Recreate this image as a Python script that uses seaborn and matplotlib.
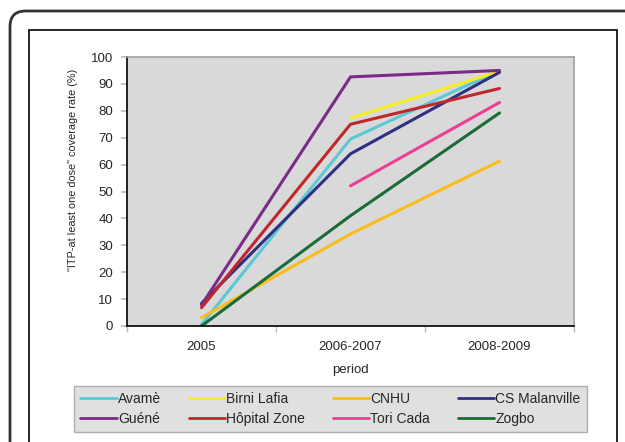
import matplotlib
matplotlib.use("Agg")
import matplotlib.pyplot as plt
import matplotlib.patches as mpatches
import numpy as np
import pandas as pd
import seaborn as sns

periods = ["2005", "2006-2007", "2008-2009"]
sites = ["Avamè", "Birni Lafia", "CNHU", "CS Malanville",
         "Guéné", "Hôpital Zone", "Tori Cada", "Zogbo"]
avame = [0.5, 69.5, 95.0]
birni_lafia = [np.nan, 77.3, 94.7]
cnhu = [3.1, 34.2, 61.3]
cs_malanville = [8.4, 64.0, 94.3]
guene = [7.8, 92.6, 95.0]
hopital_zone = [6.8, 75.0, 88.3]
tori_cada = [np.nan, 52.1, 83.1]
zogbo = [0.0, 41.0, 79.2]
colors = ["#5bc8d6", "#f3ee20", "#fbbd1c", "#2e3082",
          "#7b2a88", "#c0272d", "#ee3d96", "#1a6b38"]

series = [avame, birni_lafia, cnhu, cs_malanville, guene,
          hopital_zone, tori_cada, zogbo]
rows = []
for s, vals in zip(sites, series):
    for p, v in zip(periods, vals):
        rows.append({"period": p, "site": s, "value": v})
df = pd.DataFrame(rows)

sns.set_theme(style="white")
plt.rcParams["font.family"] = ["Liberation Sans", "DejaVu Sans"]

fig = plt.figure(figsize=(6.25, 4.42), dpi=100)
W, H = 625, 442
ax = fig.add_axes([127 / W, 1 - 326 / H, 447 / W, 269 / H])
ax.set_facecolor("#d9d9d9")

sns.lineplot(data=df, x="period", y="value", hue="site", hue_order=sites,
             palette=colors, linewidth=2.2, ax=ax, sort=False, legend=True)

ax.set_xlim(-0.5, 2.5)
ax.set_ylim(0, 100)
ax.set_yticks(range(0, 101, 10))
ax.set_xticks([0, 1, 2])
ax.set_xticklabels(periods)
ax.set_xticks([-0.5, 0.5, 1.5, 2.5], minor=True)
ax.tick_params(axis="x", which="major", length=0, pad=11, labelsize=9.5)
ax.tick_params(axis="x", which="minor", length=4, color="#bbbbbb", bottom=True)
ax.tick_params(axis="y", length=4, color="#bbbbbb", left=True, labelsize=9.5, pad=6)

for side in ["top", "right"]:
    ax.spines[side].set_color("#a0a0a0")
    ax.spines[side].set_linewidth(1.2)
for side in ["left", "bottom"]:
    ax.spines[side].set_color("black")
    ax.spines[side].set_linewidth(1.2)

ax.set_xlabel("period", fontsize=9.5, labelpad=8)
ax.set_ylabel('"ITP-at least one dose" coverage rate (%)', fontsize=7.8)
ax.yaxis.set_label_coords(-0.11, 0.58)

handles, labels = ax.get_legend_handles_labels()
ax.get_legend().remove()
order = [0, 4, 1, 5, 2, 6, 3, 7]
handles = [handles[i] for i in order]
labels = [labels[i] for i in order]
leg = fig.legend(handles, labels, ncol=4, loc="center",
                 bbox_to_anchor=(330.5 / W, 1 - 409 / H),
                 fontsize=10, frameon=True, fancybox=False,
                 handlelength=2.6, handletextpad=0.1, columnspacing=2.0,
                 borderpad=0.45, labelspacing=0.45)
leg.get_frame().set_facecolor("#d9d9d9")
leg.get_frame().set_edgecolor("#a0a0a0")
leg.get_frame().set_linewidth(1.0)
for h in leg.get_lines():
    h.set_linewidth(2.0)

# inner frame
fig.patches.append(mpatches.Rectangle((29 / W, -0.05), (617 - 29) / W, 1 - 30 / H + 0.05,
                                      transform=fig.transFigure, fill=False,
                                      edgecolor="black", linewidth=1.2))
# outer rounded frame
fig.patches.append(mpatches.FancyBboxPatch((10 / W, -0.1), 1.2, 1 - 11 / H + 0.1,
                                           boxstyle="round,pad=0,rounding_size=0.025",
                                           transform=fig.transFigure, fill=False,
                                           edgecolor="#333333", linewidth=2.0,
                                           mutation_aspect=W / H))

fig.savefig("out.png", dpi=100)
